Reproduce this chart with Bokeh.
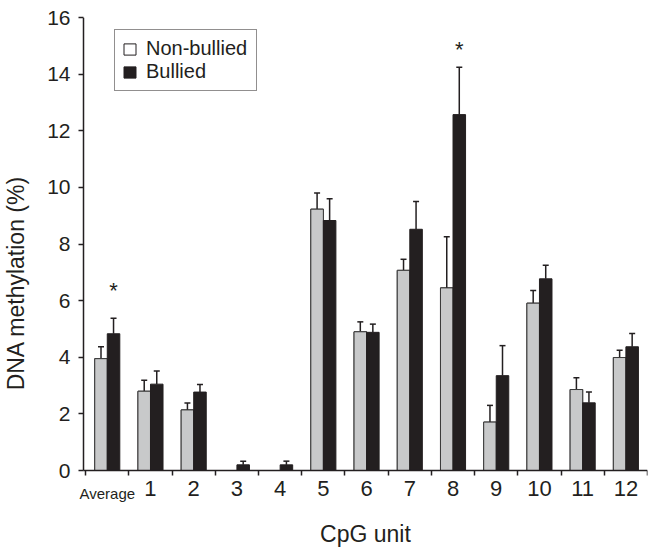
from bokeh.plotting import figure
from bokeh.models import (Range1d, FixedTicker, Whisker, TeeHead, ColumnDataSource,
                          Legend, LegendItem, LinearAxis, Label)
from bokeh.core.properties import value
from bokeh.embed import file_html
from bokeh.resources import INLINE

# ---- data ----
categories = ["Average", "1", "2", "3", "4", "5", "6", "7", "8", "9", "10", "11", "12"]
non_bullied = [3.95, 2.80, 2.14, 0.0, 0.0, 9.23, 4.90, 7.07, 6.45, 1.71, 5.91, 2.86, 3.99]
non_bullied_err = [0.42, 0.39, 0.24, 0.0, 0.0, 0.57, 0.35, 0.39, 1.81, 0.59, 0.45, 0.42, 0.26]
bullied = [4.83, 3.05, 2.77, 0.20, 0.20, 8.83, 4.88, 8.52, 12.57, 3.35, 6.77, 2.39, 4.37]
bullied_err = [0.55, 0.46, 0.27, 0.13, 0.13, 0.77, 0.29, 0.98, 1.67, 1.06, 0.48, 0.38, 0.47]
sig_categories = ["Average", "8"]
sig_y = [6.37, 14.86]
y_ticks = [0, 2, 4, 6, 8, 10, 12, 14, 16]
y_max = 16

FONT = "Liberation Sans"
INK = "#231f20"
GREY = "#c8c9ca"
BAR_W = 0.29

# y: the frame reaches below y = 0 so the category labels (axis pinned at 0) lie inside it
PX_PER_UNIT = 453 / 16
BELOW_PX = 78
FRAME_H = 453 + BELOW_PX
# x: the frame starts a few px left of the y-axis line so the "Average" label is not cut
X_LO, X_HI = -0.05, 13.0
X_PX_PER_UNIT = 564 / (X_HI - X_LO)
LEFT_PAD_PX = 5
FRAME_W = 564 + LEFT_PAD_PX

centers = [i + 0.5 for i in range(len(categories))]
boundaries = [float(i) for i in range(len(categories) + 1)]
x_nb = [c - BAR_W / 2 for c in centers]
x_b = [c + BAR_W / 2 for c in centers]

p = figure(frame_width=FRAME_W, frame_height=FRAME_H, output_backend="svg", toolbar_location=None,
           x_range=Range1d(X_LO - LEFT_PAD_PX / X_PX_PER_UNIT, X_HI),
           y_range=Range1d(-BELOW_PX / PX_PER_UNIT, y_max),
           x_axis_location=None,
           min_border_left=75, min_border_top=17, min_border_right=2, min_border_bottom=0)
p.outline_line_color = None
p.grid.visible = False
p.background_fill_color = "white"
p.border_fill_color = "white"

src_nb = ColumnDataSource(dict(x=x_nb, top=non_bullied))
src_b = ColumnDataSource(dict(x=x_b, top=bullied))

# white-outlined bars hidden under the grey ones: they give the legend its white swatch
r_nb_legend = p.vbar(x="x", top="top", width=BAR_W, source=src_nb, fill_color="white",
                     line_color=INK, line_width=1)
p.vbar(x="x", top="top", width=BAR_W, source=src_nb, fill_color=GREY, line_color="#3a3a3a", line_width=1)
r_b = p.vbar(x="x", top="top", width=BAR_W, source=src_b, fill_color=INK, line_color=INK, line_width=1)

def err_source(xs, vals, errs):
    d = dict(x=[], lo=[], hi=[])
    for x, v, e in zip(xs, vals, errs):
        if e > 0:
            d["x"].append(x); d["lo"].append(v); d["hi"].append(v + e)
    return ColumnDataSource(d)

for xs, vals, errs in [(x_nb, non_bullied, non_bullied_err), (x_b, bullied, bullied_err)]:
    w = Whisker(source=err_source(xs, vals, errs), base="x", lower="lo", upper="hi",
                dimension="height", lower_head=None,
                upper_head=TeeHead(size=6, line_width=1.5, line_color=INK),
                line_color=INK, line_width=1.5)
    p.add_layout(w)

# significance asterisks
sig_x = [x_b[categories.index(c)] for c in sig_categories]
p.text(x=sig_x, y=sig_y, text=["*"] * len(sig_x), text_font=value(FONT), text_font_size="22px",
       text_align="center", text_baseline="alphabetic", text_color=INK)

legend = Legend(items=[LegendItem(label="Non-bullied", renderers=[r_nb_legend]),
                       LegendItem(label="Bullied", renderers=[r_b])],
                location=(31 + LEFT_PAD_PX, FRAME_H - 15 - 59), glyph_width=15, glyph_height=14,
                label_standoff=9, label_width=103, padding=7, spacing=0, margin=0,
                label_text_font=FONT, label_text_font_size="20px", label_text_color=INK,
                border_line_color=INK, border_line_width=1, background_fill_alpha=1)
p.add_layout(legend)

# x axis pinned at y = 0
xa = LinearAxis(fixed_location=0)
p.add_layout(xa, "below")
xa.bounds = (X_LO, X_HI)
xa.ticker = FixedTicker(ticks=centers, minor_ticks=boundaries)
xa.major_label_overrides = {c: ("" if lab == "Average" else lab) for c, lab in zip(centers, categories)}
xa.major_tick_line_color = None
xa.major_tick_out = 5
xa.major_tick_in = 0
xa.minor_tick_out = 5
xa.minor_tick_in = 0
xa.minor_tick_line_color = INK
xa.minor_tick_line_width = 1.5
xa.axis_line_color = INK
xa.axis_line_width = 1.5
xa.major_label_standoff = 5
xa.major_label_text_font = FONT
xa.major_label_text_font_size = "22px"
xa.major_label_text_color = INK
xa.axis_label = "CpG unit"
xa.axis_label_text_font = FONT
xa.axis_label_text_font_size = "23px"
xa.axis_label_text_font_style = "normal"
xa.axis_label_text_color = INK
xa.axis_label_standoff = 22

# smaller "Average" category label
avg_i = categories.index("Average")
p.add_layout(Label(x=centers[avg_i], y=0, y_offset=-23, text=categories[avg_i],
                   text_font=FONT, text_font_size="15px", text_align="center",
                   text_baseline="middle", text_color=INK))

# y axis: ticks, labels and title in the left panel
ya = p.yaxis[0]
ya.bounds = (0, y_max)
ya.ticker = FixedTicker(ticks=y_ticks)
ya.minor_tick_line_color = None
ya.axis_line_color = None
ya.major_tick_out = 0
ya.major_tick_in = LEFT_PAD_PX
ya.major_tick_line_color = INK
ya.major_tick_line_width = 1.5
ya.major_label_standoff = 8
ya.major_label_text_font = FONT
ya.major_label_text_font_size = "21px"
ya.major_label_text_color = INK
ya.axis_label = "DNA methylation (%)"
ya.axis_label_text_font = FONT
ya.axis_label_text_font_size = "23px"
ya.axis_label_text_font_style = "normal"
ya.axis_label_text_color = INK
ya.axis_label_standoff = 15

# the y-axis line itself, from 0 to the top of the scale at the left end of the x axis
p.segment(x0=[X_LO], y0=[0], x1=[X_LO], y1=[y_max], line_color=INK, line_width=1.5)

open("out.html", "w").write(file_html(p, INLINE))
